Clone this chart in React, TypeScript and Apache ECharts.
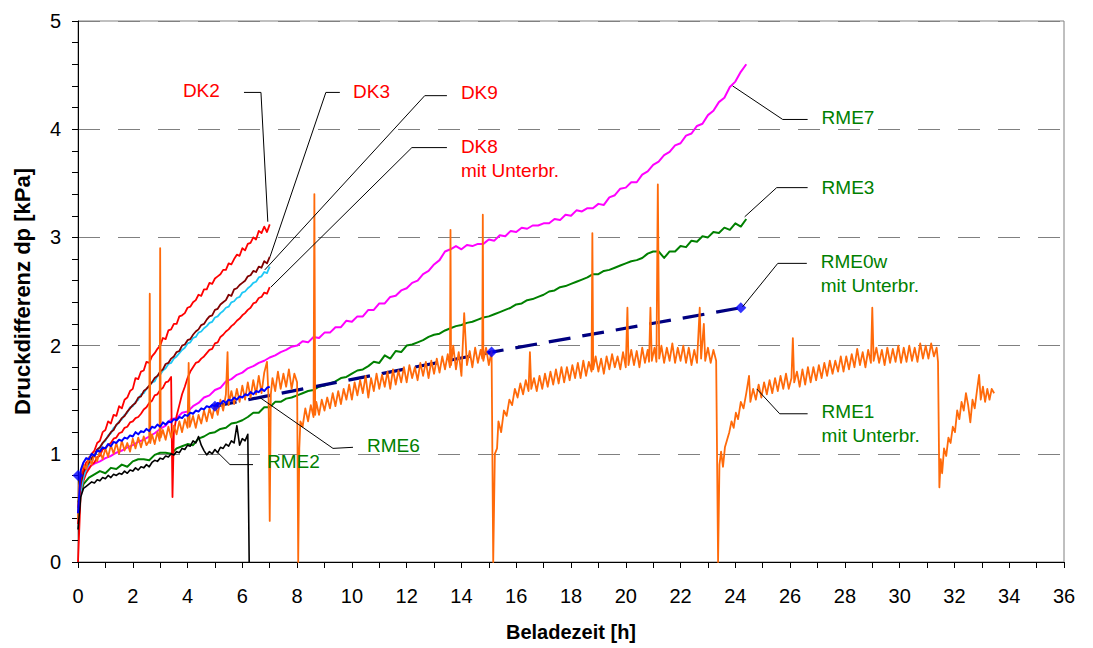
import React, { useEffect, useRef } from "react";
import * as echarts from "echarts";

// ---------- data ----------
// Beladezeit [h] sampling for the short runs: 0.0 .. 7.0 step 0.1
const DK2 = [
  0.35, 0.78, 0.86, 0.92, 0.95, 1.0, 1.03, 1.1, 1.12, 1.2,
  1.22, 1.3, 1.28, 1.36, 1.35, 1.44, 1.42, 1.5, 1.52, 1.58,
  1.6, 1.7, 1.69, 1.76, 1.77, 1.85, 1.84, 1.9, 1.93, 1.97,
  2.0, 2.07, 2.06, 2.14, 2.15, 2.2, 2.2, 2.27, 2.28, 2.3,
  2.35, 2.36, 2.4, 2.42, 2.47, 2.46, 2.52, 2.52, 2.58, 2.57,
  2.62, 2.64, 2.66, 2.7, 2.7, 2.76, 2.75, 2.8, 2.84, 2.83,
  2.9, 2.88, 2.94, 2.95, 3.0, 2.98, 3.06, 3.04, 3.1, 3.05,
  3.12,
];
const DK3 = [
  0.5, 0.72, 0.83, 0.88, 0.92, 0.96, 0.99, 1.04, 1.06, 1.1,
  1.13, 1.16, 1.2, 1.22, 1.27, 1.29, 1.33, 1.35, 1.39, 1.42,
  1.45, 1.47, 1.52, 1.53, 1.58, 1.6, 1.63, 1.66, 1.7, 1.72,
  1.76, 1.78, 1.83, 1.84, 1.88, 1.9, 1.94, 1.95, 2.0, 2.01,
  2.05, 2.06, 2.1, 2.13, 2.15, 2.19, 2.2, 2.24, 2.27, 2.28,
  2.33, 2.34, 2.38, 2.4, 2.42, 2.47, 2.46, 2.52, 2.53, 2.56,
  2.58, 2.6, 2.64, 2.65, 2.69, 2.68, 2.73, 2.72, 2.78, 2.76,
  2.82,
];
const DK9 = [
  0.4, 0.65, 0.78, 0.86, 0.9, 0.95, 0.98, 1.03, 1.05, 1.1,
  1.12, 1.17, 1.19, 1.24, 1.26, 1.3, 1.32, 1.36, 1.38, 1.43,
  1.44, 1.48, 1.5, 1.55, 1.56, 1.6, 1.62, 1.66, 1.67, 1.72,
  1.73, 1.77, 1.79, 1.83, 1.84, 1.88, 1.9, 1.93, 1.96, 1.98,
  2.02, 2.03, 2.07, 2.08, 2.12, 2.13, 2.16, 2.18, 2.21, 2.22,
  2.26, 2.27, 2.3, 2.32, 2.35, 2.36, 2.4, 2.41, 2.44, 2.45,
  2.49, 2.5, 2.53, 2.55, 2.58, 2.59, 2.63, 2.64, 2.68, 2.67,
  2.73,
];
// DK8: 0.0..3.4 step 0.1, interruption at 3.45 h, then 3.5..7.0 step 0.1
const DK8_A = [
  0.0, 0.65, 0.75, 0.82, 0.86, 0.9, 0.92, 0.97, 0.98, 1.04,
  1.05, 1.08, 1.1, 1.14, 1.15, 1.19, 1.2, 1.24, 1.25, 1.29,
  1.3, 1.33, 1.34, 1.37, 1.41, 1.43, 1.47, 1.49, 1.54, 1.55,
  1.59, 1.61, 1.66, 1.67, 1.71,
];
const DK8_BREAK = [[3.45, 0.6]];
const DK8_B = [
  1.2, 1.35, 1.45, 1.55, 1.62, 1.7, 1.76, 1.8, 1.84, 1.85,
  1.88, 1.9, 1.93, 1.96, 1.97, 2.02, 2.03, 2.08, 2.1, 2.13,
  2.15, 2.18, 2.2, 2.23, 2.25, 2.28, 2.3, 2.33, 2.35, 2.39,
  2.4, 2.44, 2.45, 2.49, 2.48, 2.54,
];
const RME6 = [
  0.45, 0.85, 0.92, 0.96, 0.95, 1.0, 0.98, 1.03, 1.02, 1.06,
  1.05, 1.09, 1.07, 1.11, 1.1, 1.13, 1.12, 1.15, 1.14, 1.17,
  1.16, 1.2, 1.18, 1.21, 1.2, 1.23, 1.21, 1.25, 1.24, 1.27,
  1.25, 1.29, 1.27, 1.3, 1.29, 1.32, 1.31, 1.34, 1.33, 1.36,
  1.35, 1.38, 1.37, 1.4, 1.39, 1.42, 1.41, 1.44, 1.43, 1.45,
  1.44, 1.47, 1.46, 1.49, 1.47, 1.5, 1.49, 1.52, 1.5, 1.53,
  1.52, 1.55, 1.54, 1.57, 1.55, 1.58, 1.57, 1.6, 1.58, 1.61,
  1.62,
];
// RME2: 0.0..6.2 step 0.1, then falls to 0
const RME2 = [
  0.3, 0.6, 0.68, 0.7, 0.72, 0.74, 0.73, 0.76, 0.75, 0.78,
  0.77, 0.8, 0.78, 0.81, 0.8, 0.82, 0.81, 0.84, 0.82, 0.85,
  0.84, 0.87, 0.85, 0.88, 0.87, 0.9, 0.88, 0.92, 0.94, 0.93,
  0.96, 0.95, 0.98, 0.97, 1.0, 0.99, 1.02, 1.01, 1.05, 1.04,
  1.08, 1.07, 1.12, 1.1, 1.16, 1.08, 1.03, 0.99, 1.02, 1.0,
  1.04, 1.01, 1.06, 1.05, 1.09, 1.07, 1.12, 1.1, 1.26, 1.08,
  1.14, 1.12, 1.18,
];
const RME2_END = [[6.25, 0]];
// long runs: 0.0 .. 24.4 step 0.2
const RME3 = [
  0.55, 0.72, 0.78, 0.81, 0.84, 0.82, 0.87, 0.86, 0.9, 0.88,
  0.93, 0.95, 0.95, 0.94, 0.99, 1.01, 1.01, 1.0, 1.05, 1.07,
  1.09, 1.08, 1.14, 1.16, 1.19, 1.2, 1.23, 1.24, 1.28, 1.29,
  1.31, 1.34, 1.38, 1.38, 1.43, 1.43, 1.48, 1.48, 1.51, 1.52,
  1.54, 1.56, 1.58, 1.59, 1.62, 1.63, 1.65, 1.67, 1.7, 1.71,
  1.74, 1.77, 1.78, 1.81, 1.85, 1.84, 1.91, 1.88, 1.95, 1.94,
  2.0, 2.01, 2.03, 2.05, 2.08, 2.1, 2.11, 2.14, 2.16, 2.18,
  2.19, 2.21, 2.22, 2.24, 2.26, 2.27, 2.29, 2.31, 2.33, 2.35,
  2.38, 2.39, 2.42, 2.43, 2.45, 2.47, 2.5, 2.51, 2.54, 2.55,
  2.57, 2.59, 2.61, 2.63, 2.66, 2.66, 2.69, 2.7, 2.72, 2.74,
  2.76, 2.78, 2.79, 2.81, 2.85, 2.87, 2.87, 2.81, 2.87, 2.87,
  2.92, 2.91, 2.97, 2.96, 3.01, 3.0, 3.05, 3.04, 3.09, 3.07,
  3.13, 3.1, 3.17,
];
const RME7 = [
  0.5, 0.82, 0.88, 0.91, 0.93, 0.96, 0.98, 1.01, 1.03, 1.06,
  1.08, 1.11, 1.13, 1.16, 1.19, 1.23, 1.26, 1.32, 1.33, 1.38,
  1.39, 1.44, 1.47, 1.52, 1.54, 1.59, 1.61, 1.67, 1.69, 1.73,
  1.75, 1.79, 1.81, 1.84, 1.86, 1.89, 1.91, 1.94, 1.96, 1.99,
  2.0, 2.04, 2.03, 2.08, 2.07, 2.12, 2.12, 2.17, 2.17, 2.23,
  2.22, 2.27, 2.27, 2.33, 2.33, 2.39, 2.39, 2.45, 2.46, 2.51,
  2.53, 2.58, 2.6, 2.66, 2.69, 2.75, 2.79, 2.87, 2.89, 2.92,
  2.89, 2.93, 2.92, 2.94, 2.94, 2.98, 2.97, 3.02, 3.01, 3.06,
  3.05, 3.09, 3.08, 3.11, 3.11, 3.13, 3.13, 3.17, 3.16, 3.21,
  3.2, 3.25, 3.24, 3.27, 3.27, 3.31, 3.3, 3.37, 3.39, 3.45,
  3.46, 3.51, 3.51, 3.58, 3.61, 3.67, 3.7, 3.76, 3.79, 3.85,
  3.87, 3.94, 3.96, 4.03, 4.05, 4.13, 4.17, 4.25, 4.29, 4.39,
  4.44, 4.53, 4.6,
];
// RME1 mit Unterbrechungen: [h, kPa]
const RME1 = [
  [0, 0.4], [0.03, 0.7], [0.1, 0.82], [0.2, 0.9], [0.3, 0.86], [0.4, 0.97], [0.5, 0.9], [0.6, 1.0],
  [0.7, 0.93], [0.8, 1.03], [0.9, 0.95], [1.0, 1.05], [1.1, 0.97], [1.2, 1.08], [1.3, 1.0], [1.4, 1.1],
  [1.5, 1.0], [1.6, 1.12], [1.7, 1.03], [1.8, 1.1], [1.9, 1.02], [2.0, 1.14], [2.1, 1.05], [2.2, 1.15],
  [2.3, 1.06], [2.4, 1.16], [2.5, 1.08], [2.6, 1.12], [2.62, 2.48], [2.64, 1.1], [2.7, 1.18], [2.8, 1.09],
  [2.9, 1.2], [2.98, 1.12], [3.0, 2.9], [3.02, 1.15], [3.1, 1.22], [3.2, 1.13], [3.3, 1.25], [3.4, 1.15],
  [3.5, 1.26], [3.6, 1.18], [3.7, 1.3], [3.8, 1.2], [3.9, 1.32], [4.0, 1.24], [4.04, 1.84], [4.08, 1.25],
  [4.2, 1.35], [4.3, 1.24], [4.4, 1.36], [4.5, 1.28], [4.6, 1.4], [4.7, 1.3], [4.8, 1.42], [4.9, 1.33],
  [5.0, 1.46], [5.1, 1.36], [5.2, 1.5], [5.3, 1.4], [5.4, 1.55], [5.46, 1.94], [5.5, 1.45], [5.6, 1.58],
  [5.7, 1.46], [5.8, 1.6], [5.9, 1.48], [6.0, 1.63], [6.1, 1.5], [6.2, 1.66], [6.3, 1.52], [6.4, 1.68],
  [6.5, 1.55], [6.6, 1.72], [6.7, 1.56], [6.8, 1.75], [6.9, 1.85], [6.96, 1.5], [7.0, 0.38], [7.04, 1.55],
  [7.1, 1.7], [7.2, 1.58], [7.3, 1.76], [7.4, 1.6], [7.5, 1.74], [7.6, 1.62], [7.7, 1.78], [7.8, 1.6],
  [7.9, 1.74], [8.0, 1.66], [8.04, 0], [8.08, 1.05], [8.12, 1.3], [8.2, 1.25], [8.3, 1.42], [8.4, 1.3],
  [8.5, 1.45], [8.6, 1.34], [8.63, 3.4], [8.66, 1.36], [8.7, 1.48], [8.8, 1.36], [8.9, 1.5], [9.0, 1.4],
  [9.1, 1.52], [9.2, 1.42], [9.3, 1.56], [9.4, 1.44], [9.5, 1.58], [9.6, 1.46], [9.7, 1.6], [9.8, 1.5],
  [9.9, 1.64], [10.0, 1.5], [10.1, 1.66], [10.2, 1.54], [10.3, 1.68], [10.4, 1.56], [10.5, 1.72], [10.6, 1.52],
  [10.7, 1.7], [10.8, 1.58], [10.9, 1.74], [11.0, 1.6], [11.1, 1.73], [11.2, 1.62], [11.3, 1.76], [11.4, 1.6],
  [11.5, 1.78], [11.6, 1.64], [11.7, 1.77], [11.8, 1.66], [11.9, 1.8], [12.0, 1.66], [12.1, 1.82], [12.2, 1.7],
  [12.3, 1.8], [12.4, 1.68], [12.5, 1.84], [12.6, 1.72], [12.7, 1.85], [12.8, 1.7], [12.9, 1.86], [13.0, 1.74],
  [13.1, 1.88], [13.2, 1.75], [13.3, 1.9], [13.4, 1.78], [13.5, 1.92], [13.58, 1.8], [13.6, 3.07], [13.62, 1.82],
  [13.7, 2.0], [13.8, 1.78], [13.9, 1.94], [14.0, 1.72], [14.1, 2.3], [14.2, 1.82], [14.3, 1.95], [14.4, 1.8],
  [14.5, 1.98], [14.6, 1.84], [14.7, 1.96], [14.76, 1.88], [14.78, 3.21], [14.8, 1.86], [14.9, 1.98], [15.0, 1.82],
  [15.1, 1.95], [15.16, 0], [15.22, 1.0], [15.3, 1.05], [15.35, 1.3], [15.45, 1.2], [15.55, 1.4], [15.65, 1.35],
  [15.75, 1.5], [15.85, 1.45], [15.95, 1.6], [16.05, 1.52], [16.15, 1.65], [16.25, 1.55], [16.35, 1.68], [16.45, 1.58],
  [16.5, 1.94], [16.55, 1.6], [16.65, 1.7], [16.75, 1.58], [16.85, 1.72], [16.95, 1.6], [17.05, 1.74], [17.15, 1.62],
  [17.25, 1.76], [17.35, 1.64], [17.45, 1.78], [17.55, 1.65], [17.65, 1.8], [17.75, 1.66], [17.85, 1.8], [17.95, 1.68],
  [18.05, 1.82], [18.15, 1.7], [18.25, 1.84], [18.35, 1.7], [18.45, 1.86], [18.55, 1.72], [18.65, 1.85], [18.75, 1.76],
  [18.78, 3.04], [18.81, 1.78], [18.9, 1.9], [19.0, 1.76], [19.1, 1.88], [19.2, 1.74], [19.3, 1.9], [19.4, 1.78],
  [19.5, 1.92], [19.6, 1.8], [19.7, 1.9], [19.8, 1.78], [19.9, 1.94], [20.0, 1.8], [20.06, 2.35], [20.1, 1.82],
  [20.2, 1.96], [20.3, 1.82], [20.4, 1.95], [20.5, 1.8], [20.6, 1.98], [20.7, 1.84], [20.8, 1.96], [20.85, 1.85],
  [20.9, 2.35], [20.95, 1.86], [21.05, 1.98], [21.12, 1.85], [21.17, 3.49], [21.22, 1.88], [21.3, 2.0], [21.4, 1.84],
  [21.5, 1.98], [21.6, 1.86], [21.7, 2.02], [21.8, 1.84], [21.9, 1.98], [22.0, 1.86], [22.1, 2.0], [22.2, 1.84],
  [22.3, 1.98], [22.4, 1.82], [22.5, 1.96], [22.6, 1.84], [22.7, 2.35], [22.75, 1.88], [22.85, 2.2], [22.9, 1.86],
  [23.0, 1.98], [23.1, 1.84], [23.2, 1.96], [23.3, 1.86], [23.37, 0], [23.42, 0.9], [23.48, 1.02], [23.55, 0.88],
  [23.62, 1.06], [23.7, 1.13], [23.78, 1.2], [23.86, 1.3], [23.94, 1.24], [24.02, 1.38], [24.1, 1.32], [24.2, 1.48],
  [24.3, 1.42], [24.4, 1.56], [24.5, 1.72], [24.55, 1.48], [24.65, 1.6], [24.75, 1.5], [24.85, 1.64], [24.95, 1.52],
  [25.05, 1.66], [25.15, 1.55], [25.25, 1.68], [25.35, 1.56], [25.45, 1.7], [25.55, 1.58], [25.65, 1.72], [25.75, 1.6],
  [25.85, 1.74], [25.95, 1.6], [26.05, 1.7], [26.1, 2.07], [26.15, 1.66], [26.25, 1.76], [26.35, 1.62], [26.45, 1.78],
  [26.55, 1.64], [26.65, 1.8], [26.75, 1.66], [26.85, 1.8], [26.95, 1.68], [27.05, 1.82], [27.15, 1.7], [27.25, 1.84],
  [27.35, 1.72], [27.45, 1.86], [27.55, 1.74], [27.65, 1.86], [27.75, 1.76], [27.85, 1.9], [27.95, 1.76], [28.05, 1.9],
  [28.15, 1.78], [28.25, 1.92], [28.35, 1.8], [28.45, 1.97], [28.55, 1.82], [28.65, 1.94], [28.75, 1.8], [28.85, 1.96],
  [28.95, 1.84], [29.0, 2.35], [29.05, 1.86], [29.15, 1.98], [29.25, 1.84], [29.35, 1.96], [29.45, 1.82], [29.55, 1.98],
  [29.65, 1.84], [29.75, 1.97], [29.85, 1.85], [29.95, 2.0], [30.05, 1.84], [30.15, 1.98], [30.25, 1.85], [30.35, 2.0],
  [30.45, 1.86], [30.55, 1.98], [30.65, 1.85], [30.75, 2.02], [30.85, 1.88], [30.95, 2.0], [31.05, 1.88], [31.15, 2.02],
  [31.25, 1.9], [31.35, 1.98], [31.4, 1.85], [31.45, 0.69], [31.5, 0.95], [31.55, 0.82], [31.62, 1.05], [31.7, 0.98],
  [31.78, 1.15], [31.86, 1.1], [31.94, 1.25], [32.02, 1.2], [32.1, 1.4], [32.18, 1.32], [32.26, 1.48], [32.34, 1.4],
  [32.42, 1.56], [32.5, 1.45], [32.58, 1.29], [32.66, 1.5], [32.74, 1.42], [32.82, 1.58], [32.9, 1.73], [32.96, 1.5],
  [33.04, 1.62], [33.12, 1.48], [33.2, 1.6], [33.28, 1.5], [33.36, 1.6], [33.45, 1.56],
];
// RME0w mit Unterbrechungen: measured points and the dashed bridge between them
const RME0W_POINTS = [[0, 0.8], [5.0, 1.44], [15.1, 1.94], [24.2, 2.35]];
const RME0W_BRIDGE = [[5.0, 1.44], [15.1, 1.94], [24.2, 2.35]];

const X_MIN = 0, X_MAX = 36, X_STEP = 2;
const Y_MIN = 0, Y_MAX = 5, Y_STEP = 1;

// ---------- presentation ----------
const FONT = '"Liberation Sans", Arial, Helvetica, sans-serif';
const RED = "#FF0000";
const GREEN = "#008000";

const seq = (start: number, step: number, ys: number[]) =>
  ys.map((y, i) => [Math.round((start + i * step) * 100) / 100, y]);

const ANNOTATIONS = [
  { lines: ["DK2"], color: RED, at: [3.83, 4.36], leader: [[6.06, 4.34], [6.68, 4.34], [6.93, 3.145]] },
  { lines: ["DK3"], color: RED, at: [10.04, 4.35], leader: [[9.56, 4.34], [9.05, 4.34], [7.01, 2.82]] },
  { lines: ["DK9"], color: RED, at: [13.98, 4.34], leader: [[13.47, 4.31], [12.66, 4.31], [6.82, 2.7]] },
  { lines: ["DK8", "mit Unterbr."], color: RED, at: [13.98, 3.84], leader: [[13.47, 3.83], [12.19, 3.83], [7.04, 2.54]] },
  { lines: ["RME7"], color: GREEN, at: [27.15, 4.11], leader: [[26.64, 4.09], [25.73, 4.09], [23.9, 4.4]] },
  { lines: ["RME3"], color: GREEN, at: [27.15, 3.46], leader: [[26.64, 3.46], [25.51, 3.46], [24.34, 3.19]] },
  { lines: ["RME0w", "mit Unterbr."], color: GREEN, at: [27.12, 2.78], leader: [[26.61, 2.76], [25.55, 2.76], [24.27, 2.36]] },
  { lines: ["RME1", "mit Unterbr."], color: GREEN, at: [27.15, 1.39], leader: [[26.64, 1.37], [25.62, 1.37], [24.78, 1.6]] },
  { lines: ["RME6"], color: GREEN, at: [10.55, 1.08], leader: [[10.04, 1.06], [9.31, 1.05], [6.64, 1.52]] },
  { lines: ["RME2"], color: GREEN, at: [6.9, 0.93], leader: [[6.39, 0.9], [5.55, 0.9], [5.07, 1.02]] },
];

const lineSeries = (name: string, data: number[][], color: string, width = 2, z = 2) => ({
  name,
  type: "line",
  data,
  symbol: "none",
  z,
  lineStyle: { color, width, join: "round" },
  itemStyle: { color },
  emphasis: { disabled: true },
});

export default function App() {
  const ref = useRef<HTMLDivElement>(null);

  useEffect(() => {
    if (!ref.current) return;
    const chart = echarts.init(ref.current, null, { renderer: "svg" });
    const dk8 = [...seq(0, 0.1, DK8_A), ...DK8_BREAK, ...seq(3.5, 0.1, DK8_B)];
    const rme2 = [...seq(0, 0.1, RME2), ...RME2_END];

    chart.setOption({
      animation: false,
      backgroundColor: "#FFFFFF",
      textStyle: { fontFamily: FONT },
      grid: {
        left: 78, right: 29, top: 21, bottom: 86,
        show: true, borderColor: "#808080", borderWidth: 1, backgroundColor: "transparent",
      },
      xAxis: {
        type: "value",
        min: X_MIN, max: X_MAX, interval: X_STEP,
        name: "Beladezeit [h]",
        nameLocation: "middle",
        nameGap: 60,
        nameTextStyle: { fontSize: 20, fontWeight: "bold", color: "#000", fontFamily: FONT },
        axisLine: { show: true, onZero: false, lineStyle: { color: "#000", width: 1 } },
        axisTick: { show: true, inside: false, length: 6, lineStyle: { color: "#000" } },
        minorTick: { show: true, splitNumber: 2, length: 6, lineStyle: { color: "#000" } },
        axisLabel: { fontSize: 20, color: "#000", margin: 24, fontFamily: FONT },
        splitLine: { show: false },
      },
      yAxis: {
        type: "value",
        min: Y_MIN, max: Y_MAX, interval: Y_STEP,
        name: "Druckdifferenz dp [kPa]",
        nameLocation: "middle",
        nameGap: 45,
        nameTextStyle: { fontSize: 22, fontWeight: "bold", color: "#000", fontFamily: FONT },
        axisLine: { show: true, onZero: false, lineStyle: { color: "#000", width: 1 } },
        axisTick: { show: true, inside: false, length: 6, lineStyle: { color: "#000" } },
        minorTick: { show: true, splitNumber: 5, length: 6, lineStyle: { color: "#000" } },
        axisLabel: { fontSize: 20, color: "#000", margin: 17, fontFamily: FONT },
        splitLine: { show: true, lineStyle: { color: "#808080", width: 1, type: [22, 18] } },
      },
      series: [
        lineSeries("RME3", seq(0, 0.2, RME3), "#008000", 2, 2),
        lineSeries("RME7", seq(0, 0.2, RME7), "#FF00FF", 2, 2),
        {
          name: "RME0w",
          type: "line",
          data: RME0W_BRIDGE,
          symbol: "none",
          z: 3,
          lineStyle: { color: "#000080", width: 3.2, type: [22, 12] },
          emphasis: { disabled: true },
        },
        lineSeries("DK8", dk8, "#FF0000", 1.8, 3),
        lineSeries("DK9", seq(0, 0.1, DK9), "#1EC8F5", 1.8, 3),
        lineSeries("DK3", seq(0, 0.1, DK3), "#800000", 1.8, 3),
        lineSeries("DK2", seq(0, 0.1, DK2), "#FF0000", 1.8, 3),
        lineSeries("RME1", RME1, "#FF6A0A", 1.8, 4),
        lineSeries("RME2", rme2, "#000000", 1.6, 5),
        lineSeries("RME6", seq(0, 0.1, RME6), "#0000FF", 2, 5),
        {
          name: "RME0w Punkte",
          type: "scatter",
          data: RME0W_POINTS,
          symbol: "diamond",
          symbolSize: 11,
          z: 7,
          itemStyle: { color: "#0000FF" },
          emphasis: { disabled: true },
        },
      ],
    });

    const px = (p: number[]) => chart.convertToPixel({ gridIndex: 0 }, p) as number[];
    const elements: any[] = [];
    ANNOTATIONS.forEach((a) => {
      elements.push({
        type: "polyline",
        silent: true,
        z: 100,
        shape: { points: a.leader.map(px) },
        style: { stroke: "#000", lineWidth: 1, fill: null },
      });
      const p = px(a.at);
      a.lines.forEach((t, i) => {
        elements.push({
          type: "text",
          silent: true,
          z: 100,
          x: p[0],
          y: p[1] + i * 24,
          style: {
            text: t,
            fill: a.color,
            font: `19px ${FONT}`,
            textAlign: "left",
            textVerticalAlign: "middle",
          },
        });
      });
    });
    chart.setOption({ graphic: { elements } });

    return () => chart.dispose();
  }, []);

  return (
    <div
      ref={ref}
      style={{ position: "fixed", left: 0, top: 0, width: 1093, height: 648, background: "#fff" }}
    />
  );
}
